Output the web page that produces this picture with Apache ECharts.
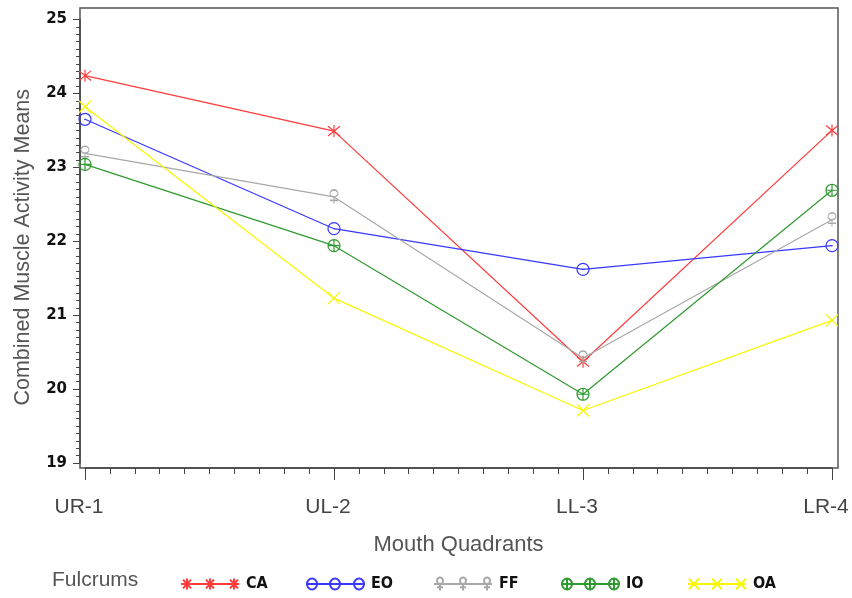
<!DOCTYPE html>
<html><head><meta charset="utf-8">
<script src="https://cdn.jsdelivr.net/npm/echarts@6/dist/echarts.min.js"></script>
<style>html,body{margin:0;padding:0;background:#fff}#c{width:852px;height:598px}</style>
</head><body><div id="c"></div>
<script>
const categories = ['UR-1', 'UL-2', 'LL-3', 'LR-4'];
const yTicks = [19, 20, 21, 22, 23, 24, 25];
const CA = [24.24, 23.49, 20.37, 23.50];
const EO = [23.65, 22.17, 21.62, 21.94];
const FF = [23.19, 22.60, 20.42, 22.29];
const IO = [23.04, 21.94, 19.93, 22.69];
const OA = [23.82, 21.23, 19.71, 20.93];

// marker shapes (drawn as strokes)
const mk = {
  CA: (x, y) => `M${x},${y-5}L${x},${y+5}M${x-4},${y-4}L${x+4},${y+4}M${x+4},${y-4}L${x-4},${y+4}`,
  EO: (x, y) => `M${x-5},${y}A5,5 0 1,0 ${x+5},${y}A5,5 0 1,0 ${x-5},${y}ZM${x-0.6},${y}L${x+0.6},${y}`,
  FF: (x, y) => `M${x-3},${y-3}A3,3 0 1,0 ${x+3},${y-3}A3,3 0 1,0 ${x-3},${y-3}ZM${x},${y}L${x},${y+6}M${x-3},${y+3}L${x+3},${y+3}`,
  IO: (x, y) => `M${x-5},${y}A5,5 0 1,0 ${x+5},${y}A5,5 0 1,0 ${x-5},${y}ZM${x},${y-5}L${x},${y+5}M${x-5},${y}L${x+5},${y}`,
  OA: (x, y) => `M${x-5},${y-5}L${x+5},${y+5}M${x+5},${y-5}L${x-5},${y+5}`
};
const legendIcon = (n) => 'path://M0,6L58,6' + mk[n](6, 6) + mk[n](29, 6) + mk[n](53, 6) + 'M0,0L0,0M58,12L58,12';

const seriesDefs = [
  {name: 'CA', data: CA, color: '#ff3b3b', size: [12, 12], legendLeft: 175},
  {name: 'EO', data: EO, color: '#3838ff', size: [12, 12], legendLeft: 300},
  {name: 'FF', data: FF, color: '#a8a8a8', size: [8, 14], legendLeft: 428},
  {name: 'IO', data: IO, color: '#2f9a2f', size: [12, 12], legendLeft: 555},
  {name: 'OA', data: OA, color: '#f7f700', size: [12, 12], legendLeft: 682}
];

const chart = echarts.init(document.getElementById('c'));
chart.setOption({
  animation: false,
  backgroundColor: '#fff',
  textStyle: {fontFamily: 'Liberation Sans, Arial, sans-serif'},
  grid: {left: 85, right: 20, top: 19.5, bottom: 135, containLabel: false},
  title: {text: 'Fulcrums', left: 47, top: 565, textStyle: {fontSize: 21, fontWeight: 'normal', color: '#555', fontFamily: 'Liberation Sans, Arial, sans-serif'}},
  legend: seriesDefs.map(s => ({
    left: s.legendLeft, top: 571, itemWidth: 58, itemHeight: 13, itemGap: 0, symbolKeepAspect: false,
    textStyle: {fontSize: 16, fontWeight: 'bold', color: '#111', fontFamily: 'DejaVu Sans Condensed, DejaVu Sans, sans-serif', padding: [3, 0, 0, 2]},
    data: [{name: s.name, icon: legendIcon(s.name)}]
  })),
  xAxis: {
    type: 'value', min: 0, max: categories.length - 1, interval: 1, offset: 5,
    name: 'Mouth Quadrants', nameLocation: 'middle', nameGap: 66,
    nameTextStyle: {fontSize: 22, color: '#555'},
    axisLine: {show: true, onZero: false, lineStyle: {color: '#444', width: 1.5}},
    axisTick: {show: true, length: 12, lineStyle: {color: '#444'}},
    minorTick: {show: true, splitNumber: 10, length: 6, lineStyle: {color: '#444'}},
    splitLine: {show: false},
    axisLabel: {margin: 29, fontSize: 21, color: '#444', padding: [0, 12, 0, 0], formatter: v => categories[v] || ''}
  },
  yAxis: {
    type: 'value', min: yTicks[0], max: yTicks[yTicks.length - 1], interval: 1, offset: 5,
    name: 'Combined Muscle Activity Means', nameLocation: 'middle', nameGap: 46,
    nameTextStyle: {fontSize: 21.5, color: '#555', padding: [0, 12, 0, 0]},
    axisLine: {show: true, onZero: false, lineStyle: {color: '#444', width: 1.5}},
    axisTick: {show: true, length: 7, lineStyle: {color: '#444'}},
    minorTick: {show: true, splitNumber: 10, length: 4, lineStyle: {color: '#444'}},
    splitLine: {show: false},
    axisLabel: {margin: 13, fontSize: 15, fontWeight: 'bold', color: '#111', fontFamily: 'DejaVu Sans, sans-serif'}
  },
  graphic: [{
    type: 'rect', shape: {x: 80, y: 8, width: 758, height: 460},
    style: {fill: 'none', stroke: '#555', lineWidth: 1.5}, silent: true, z: 0
  }],
  series: seriesDefs.map(s => ({
    name: s.name, type: 'line',
    data: s.data.map((v, i) => [i, v]),
    symbol: 'path://' + mk[s.name](0, 0), symbolSize: s.size, showSymbol: true,
    lineStyle: {color: s.color, width: 1.2},
    itemStyle: {color: 'transparent', borderColor: s.color, borderWidth: 1.2},
    emphasis: {disabled: true}
  }))
});
</script></body></html>
